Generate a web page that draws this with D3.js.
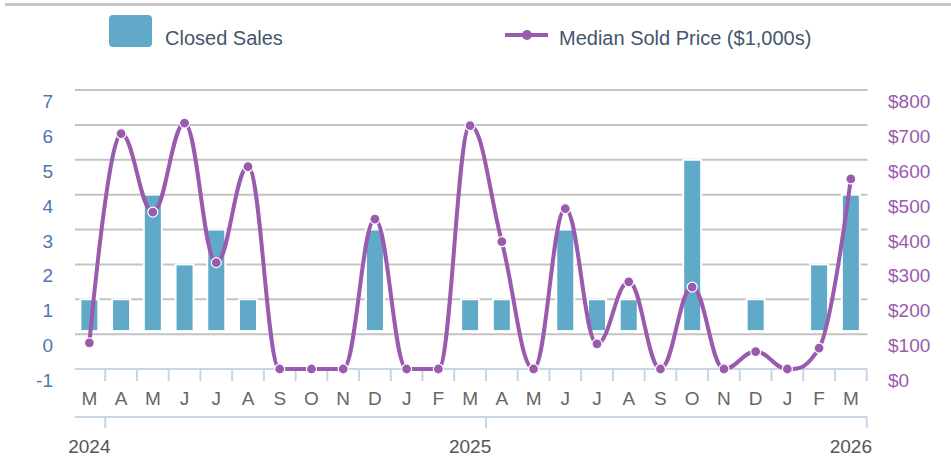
<!DOCTYPE html>
<html>
<head>
<meta charset="utf-8">
<script src="https://cdn.jsdelivr.net/npm/d3@7"></script>
<style>
  html, body { margin: 0; padding: 0; background: #fff; }
  svg { display: block; font-family: "Liberation Sans", Arial, sans-serif; }
</style>
</head>
<body>
<svg id="chart" width="951" height="456"></svg>
<script>
// ---- data ----
const months = ["M","A","M","J","J","A","S","O","N","D","J","F","M","A","M","J","J","A","S","O","N","D","J","F","M"];
const yearLabels = [{ index: 0, label: "2024" }, { index: 12, label: "2025" }, { index: 24, label: "2026" }];
const closedSales = [1,1,4,2,3,1,0,0,0,3,0,0,1,1,0,3,1,1,0,5,0,1,0,2,4];
const medianPrice = [75,675,450,705,305,580,0,0,0,430,0,0,698,365,0,460,72,250,0,235,0,50,0,60,545];
const leftTicks = [-1,0,1,2,3,4,5,6,7];
const rightTicks = [0,100,200,300,400,500,600,700,800];
const legendLabels = ["Closed Sales", "Median Sold Price ($1,000s)"];

// ---- styles ----
const barColor = "#60a9c9";
const lineColor = "#9a5aae";
const gridColor = "#c3c3c3";
const axisColor = "#c7d5e5";

const svg = d3.select("#chart");
const idx = d3.range(months.length);

const x = d3.scaleBand().domain(idx).range([73.5, 866.7]).padding(0);
const yL = d3.scaleLinear().domain([-1, 7]).range([369, 90]);
const yR = d3.scaleLinear().domain([0, 800]).range([369, 90]);

// top rule
svg.append("line").attr("x1", 5).attr("x2", 951).attr("y1", 4.5).attr("y2", 4.5)
  .attr("stroke", "#c8c8c8").attr("stroke-width", 3);

// legend
svg.append("rect").attr("x", 109).attr("y", 15).attr("width", 43).attr("height", 32).attr("rx", 4)
  .attr("fill", barColor);
svg.append("text").attr("x", 165).attr("y", 45).attr("font-size", 20).attr("fill", "#44566c")
  .text(legendLabels[0]);
svg.append("line").attr("x1", 505).attr("x2", 548).attr("y1", 35).attr("y2", 35)
  .attr("stroke", lineColor).attr("stroke-width", 4);
svg.append("circle").attr("cx", 527).attr("cy", 35).attr("r", 5).attr("fill", lineColor);
svg.append("text").attr("x", 559).attr("y", 45).attr("font-size", 20).attr("fill", "#44566c")
  .text(legendLabels[1]);

// gridlines
svg.append("g").selectAll("line").data(leftTicks.filter(t => t > -1)).join("line")
  .attr("x1", 75).attr("x2", 867.5)
  .attr("y1", d => yL(d)).attr("y2", d => yL(d))
  .attr("stroke", gridColor).attr("stroke-width", 2);

// left labels
svg.append("g").selectAll("text").data(leftTicks).join("text")
  .attr("x", 53).attr("y", d => yL(d) + 18)
  .attr("text-anchor", "end").attr("font-size", 19).attr("fill", "#4a78b0")
  .text(d => d);

// right labels
svg.append("g").selectAll("text").data(rightTicks).join("text")
  .attr("x", 888).attr("y", d => yR(d) + 18)
  .attr("text-anchor", "start").attr("font-size", 19).attr("fill", "#9a5aae")
  .text(d => "$" + d);

// bars
const barW = 18;
svg.append("g").selectAll("rect").data(idx.filter(i => closedSales[i] > 0)).join("rect")
  .attr("x", i => x(i) + (x.bandwidth() - barW) / 2)
  .attr("width", barW)
  .attr("y", i => yL(closedSales[i]))
  .attr("height", i => (yL(0) - 3) - yL(closedSales[i]))
  .attr("fill", barColor)
  .attr("stroke", "#fff").attr("stroke-width", 2);

// x axis (months)
svg.append("line").attr("x1", 75).attr("x2", 867.5).attr("y1", yL(-1)).attr("y2", yL(-1))
  .attr("stroke", axisColor).attr("stroke-width", 2);
svg.append("g").selectAll("line").data(idx).join("line")
  .attr("x1", i => x(i) + x.bandwidth()).attr("x2", i => x(i) + x.bandwidth())
  .attr("y1", yL(-1)).attr("y2", yL(-1) + 12)
  .attr("stroke", axisColor).attr("stroke-width", 2);
svg.append("g").selectAll("text").data(idx).join("text")
  .attr("x", i => x(i) + x.bandwidth() / 2).attr("y", 405)
  .attr("text-anchor", "middle").attr("font-size", 19).attr("fill", "#666")
  .text(i => months[i]);

// x axis (years)
svg.append("line").attr("x1", 75).attr("x2", 867.5).attr("y1", 417).attr("y2", 417)
  .attr("stroke", axisColor).attr("stroke-width", 2);
svg.append("g").selectAll("line").data(yearLabels).join("line")
  .attr("x1", d => x(d.index) + x.bandwidth()).attr("x2", d => x(d.index) + x.bandwidth())
  .attr("y1", 417).attr("y2", 428)
  .attr("stroke", axisColor).attr("stroke-width", 2);
svg.append("g").selectAll("text").data(yearLabels).join("text")
  .attr("x", d => x(d.index) + x.bandwidth() / 2).attr("y", 453)
  .attr("text-anchor", "middle").attr("font-size", 19).attr("fill", "#555")
  .text(d => d.label);

// Highcharts-like spline curve
function SplineCurve(context) { this._context = context; }
SplineCurve.prototype = {
  areaStart() {}, areaEnd() {},
  lineStart() { this._pts = []; },
  point(px, py) { this._pts.push({ x: +px, y: +py }); },
  lineEnd() {
    const pts = this._pts, ctx = this._context, s = 1.5, den = s + 1;
    if (!pts.length) return;
    for (let i = 0; i < pts.length; i++) {
      const p = pts[i], a = pts[i - 1], b = pts[i + 1];
      if (a && b) {
        let lcx = (s * p.x + a.x) / den, lcy = (s * p.y + a.y) / den;
        let rcx = (s * p.x + b.x) / den, rcy = (s * p.y + b.y) / den;
        let corr = 0;
        if (rcx !== lcx) corr = ((rcy - lcy) * (rcx - p.x)) / (rcx - lcx) + p.y - rcy;
        lcy += corr; rcy += corr;
        if (lcy > a.y && lcy > p.y) { lcy = Math.max(a.y, p.y); rcy = 2 * p.y - lcy; }
        else if (lcy < a.y && lcy < p.y) { lcy = Math.min(a.y, p.y); rcy = 2 * p.y - lcy; }
        if (rcy > b.y && rcy > p.y) { rcy = Math.max(b.y, p.y); lcy = 2 * p.y - rcy; }
        else if (rcy < b.y && rcy < p.y) { rcy = Math.min(b.y, p.y); lcy = 2 * p.y - rcy; }
        p.lc = [lcx, lcy]; p.rc = [rcx, rcy];
      }
    }
    ctx.moveTo(pts[0].x, pts[0].y);
    for (let i = 1; i < pts.length; i++) {
      const a = pts[i - 1], p = pts[i];
      const c1 = a.rc || [a.x, a.y], c2 = p.lc || [p.x, p.y];
      ctx.bezierCurveTo(c1[0], c1[1], c2[0], c2[1], p.x, p.y);
    }
  }
};
const splineCurve = ctx => new SplineCurve(ctx);

const line = d3.line()
  .x(i => x(i) + x.bandwidth() / 2)
  .y(i => yR(medianPrice[i]))
  .curve(splineCurve);

svg.append("path").datum(idx).attr("d", line)
  .attr("fill", "none").attr("stroke", lineColor).attr("stroke-width", 4)
  .attr("stroke-linejoin", "round").attr("stroke-linecap", "round");

svg.append("g").selectAll("circle").data(idx).join("circle")
  .attr("cx", i => x(i) + x.bandwidth() / 2)
  .attr("cy", i => yR(medianPrice[i]))
  .attr("r", 5)
  .attr("fill", lineColor).attr("stroke", "#fff").attr("stroke-width", 1.2);
</script>
</body>
</html>
